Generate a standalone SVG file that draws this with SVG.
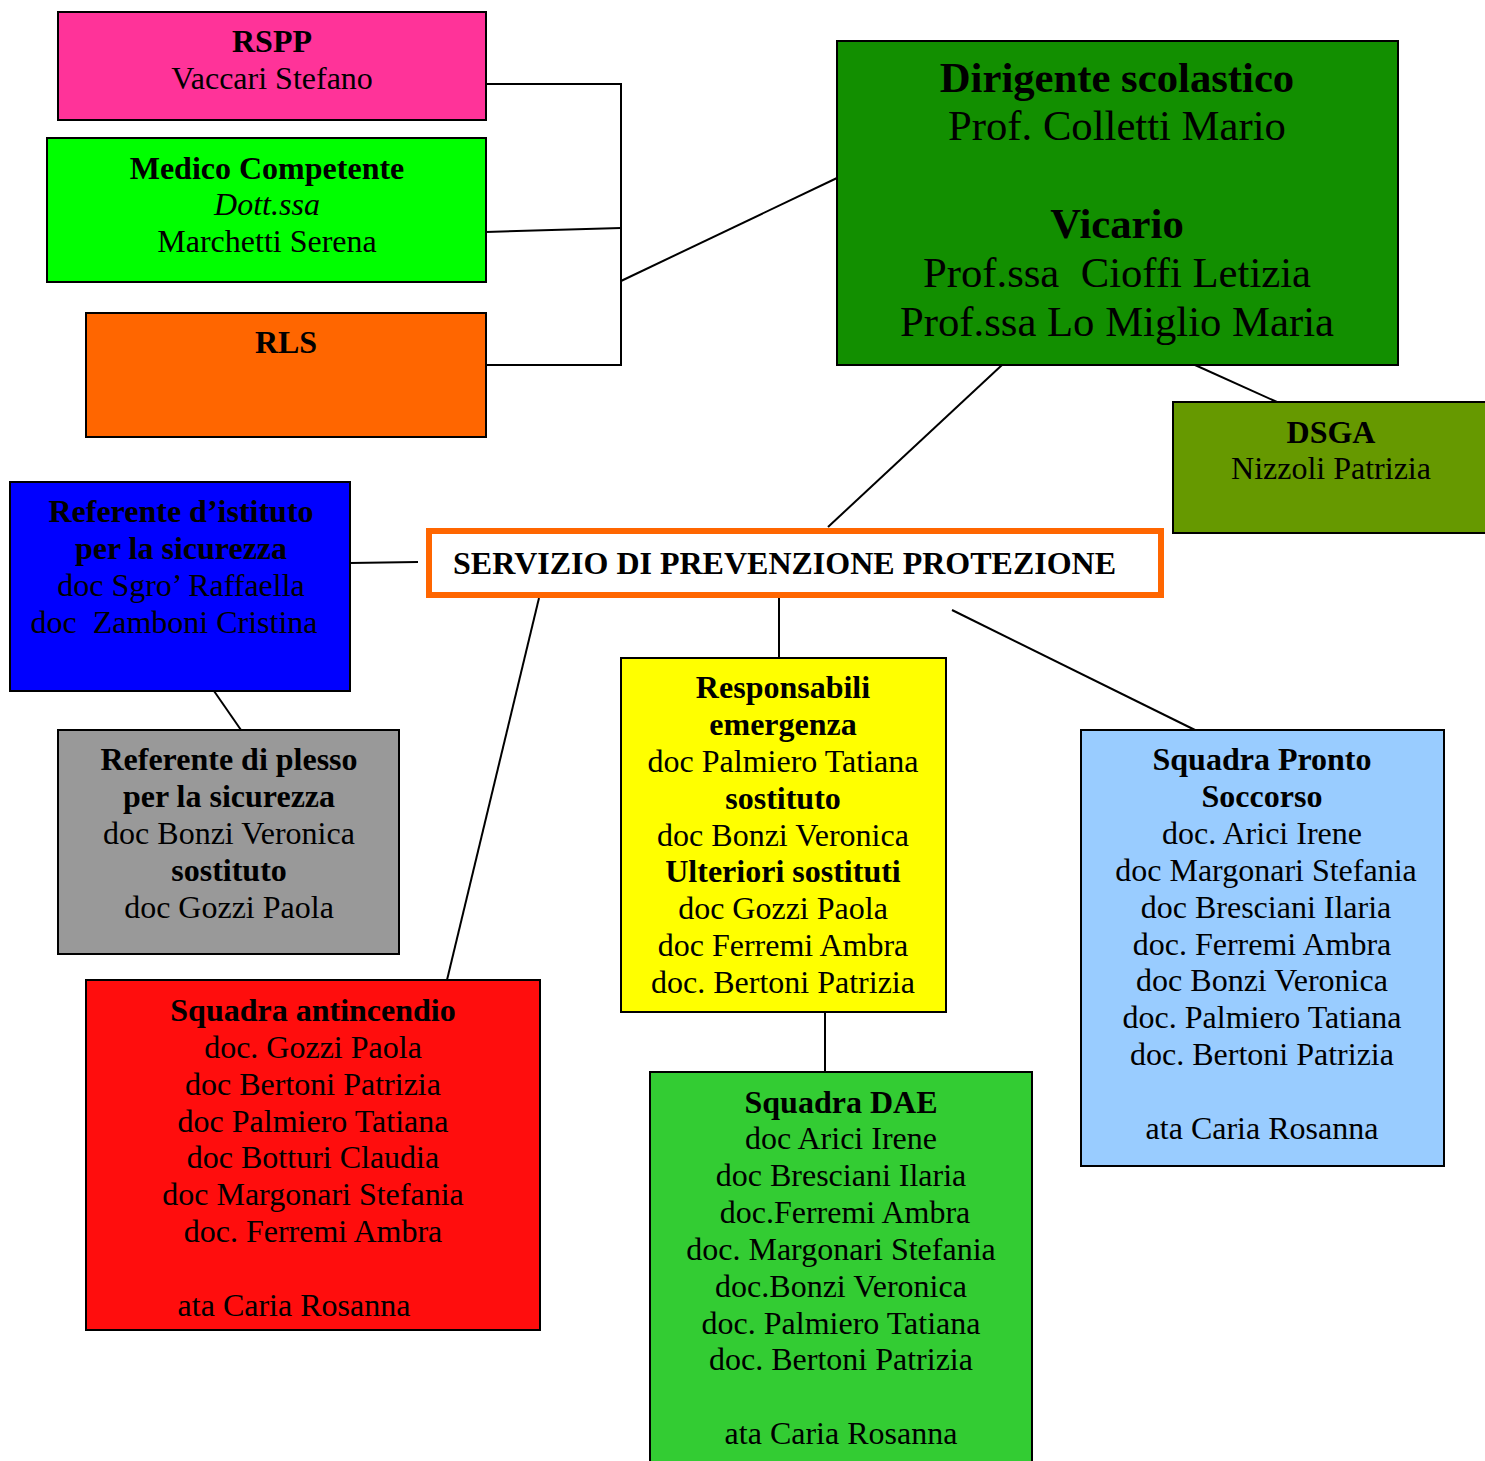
<svg xmlns="http://www.w3.org/2000/svg" width="1485" height="1461" viewBox="0 0 1485 1461">
<style>
text{font-family:"Liberation Serif","Times New Roman",serif;font-size:32px;fill:#000;text-anchor:middle}
.b{font-weight:bold}
.i{font-style:italic}
.big{font-size:42.7px}
.box{stroke:#000;stroke-width:2}
.con{stroke:#000;stroke-width:2;fill:none}
</style>
<rect width="1485" height="1461" fill="#fff"/>
<g id="connectors">
<polyline class="con" points="486,84 621,84 621,365 486,365"/>
<line class="con" x1="486" y1="232" x2="621" y2="228"/>
<line class="con" x1="621" y1="281" x2="837" y2="178"/>
<line class="con" x1="1002" y1="365" x2="828" y2="527"/>
<line class="con" x1="1195" y1="365" x2="1277" y2="402"/>
<line class="con" x1="350" y1="563" x2="418" y2="562"/>
<line class="con" x1="539" y1="598" x2="447" y2="980"/>
<line class="con" x1="779" y1="595" x2="779" y2="658"/>
<line class="con" x1="952" y1="610" x2="1195" y2="730"/>
<line class="con" x1="214" y1="691" x2="241" y2="730"/>
<line class="con" x1="825" y1="1012" x2="825" y2="1072"/>
</g>
<g id="rspp">
<rect class="box" x="58" y="12" width="428" height="108" fill="#FF3399"/>
<text x="272" y="52" class="b">RSPP</text>
<text x="272" y="89">Vaccari Stefano</text>
</g>
<g id="medico">
<rect class="box" x="47" y="138" width="439" height="144" fill="#00FF00"/>
<text x="267" y="179" class="b">Medico Competente</text>
<text x="267" y="215" class="i">Dott.ssa</text>
<text x="267" y="252">Marchetti Serena</text>
</g>
<g id="rls">
<rect class="box" x="86" y="313" width="400" height="124" fill="#FF6600"/>
<text x="286" y="353" class="b">RLS</text>
</g>
<g id="dirigente">
<rect class="box" x="837" y="41" width="561" height="324" fill="#128F00"/>
<text x="1117" y="92" class="b big">Dirigente scolastico</text>
<text x="1117" y="140" class="big">Prof. Colletti Mario</text>
<text x="1117" y="238" class="b big">Vicario</text>
<text x="1117" y="287" class="big" xml:space="preserve">Prof.ssa  Cioffi Letizia</text>
<text x="1117" y="336" class="big">Prof.ssa Lo Miglio Maria</text>
</g>
<g id="dsga">
<rect class="box" x="1173" y="402" width="314" height="131" fill="#669900"/>
<text x="1331" y="443" class="b">DSGA</text>
<text x="1331" y="479">Nizzoli Patrizia</text>
</g>
<g id="servizio">
<rect x="429" y="531" width="732" height="64" fill="#fff" stroke="#FF6600" stroke-width="6"/>
<text x="453" y="574" class="b" style="text-anchor:start">SERVIZIO DI PREVENZIONE PROTEZIONE</text>
</g>
<g id="referente-istituto">
<rect class="box" x="10" y="482" width="340" height="209" fill="#0000FF"/>
<text x="181" y="522" class="b">Referente d’istituto</text>
<text x="181" y="559" class="b">per la sicurezza</text>
<text x="181" y="596">doc Sgro’ Raffaella</text>
<text x="174" y="633" xml:space="preserve">doc  Zamboni Cristina</text>
</g>
<g id="referente-plesso">
<rect class="box" x="58" y="730" width="341" height="224" fill="#999999"/>
<text x="229" y="770" class="b">Referente di plesso</text>
<text x="229" y="807" class="b">per la sicurezza</text>
<text x="229" y="844">doc Bonzi Veronica</text>
<text x="229" y="881" class="b">sostituto</text>
<text x="229" y="918">doc Gozzi Paola</text>
</g>
<g id="responsabili">
<rect class="box" x="621" y="658" width="325" height="354" fill="#FFFF00"/>
<text x="783" y="698" class="b">Responsabili</text>
<text x="783" y="735" class="b">emergenza</text>
<text x="783" y="772">doc Palmiero Tatiana</text>
<text x="783" y="809" class="b">sostituto</text>
<text x="783" y="846">doc Bonzi Veronica</text>
<text x="783" y="882" class="b">Ulteriori sostituti</text>
<text x="783" y="919">doc Gozzi Paola</text>
<text x="783" y="956">doc Ferremi Ambra</text>
<text x="783" y="993">doc. Bertoni Patrizia</text>
</g>
<g id="pronto-soccorso">
<rect class="box" x="1081" y="730" width="363" height="436" fill="#99CCFF"/>
<text x="1262" y="770" class="b">Squadra Pronto</text>
<text x="1262" y="807" class="b">Soccorso</text>
<text x="1262" y="844">doc. Arici Irene</text>
<text x="1266" y="881">doc Margonari Stefania</text>
<text x="1266" y="918">doc Bresciani Ilaria</text>
<text x="1262" y="955">doc. Ferremi Ambra</text>
<text x="1262" y="991">doc Bonzi Veronica</text>
<text x="1262" y="1028">doc. Palmiero Tatiana</text>
<text x="1262" y="1065">doc. Bertoni Patrizia</text>
<text x="1262" y="1139">ata Caria Rosanna</text>
</g>
<g id="antincendio">
<rect class="box" x="86" y="980" width="454" height="350" fill="#FF0D0D"/>
<text x="313" y="1021" class="b">Squadra antincendio</text>
<text x="313" y="1058">doc. Gozzi Paola</text>
<text x="313" y="1095">doc Bertoni Patrizia</text>
<text x="313" y="1132">doc Palmiero Tatiana</text>
<text x="313" y="1168">doc Botturi Claudia</text>
<text x="313" y="1205">doc Margonari Stefania</text>
<text x="313" y="1242">doc. Ferremi Ambra</text>
<text x="294" y="1316">ata Caria Rosanna</text>
</g>
<g id="dae">
<rect class="box" x="650" y="1072" width="382" height="400" fill="#33CC33"/>
<text x="841" y="1113" class="b">Squadra DAE</text>
<text x="841" y="1149">doc Arici Irene</text>
<text x="841" y="1186">doc Bresciani Ilaria</text>
<text x="845" y="1223">doc.Ferremi Ambra</text>
<text x="841" y="1260">doc. Margonari Stefania</text>
<text x="841" y="1297">doc.Bonzi Veronica</text>
<text x="841" y="1334">doc. Palmiero Tatiana</text>
<text x="841" y="1370">doc. Bertoni Patrizia</text>
<text x="841" y="1444">ata Caria Rosanna</text>
</g>
</svg>
